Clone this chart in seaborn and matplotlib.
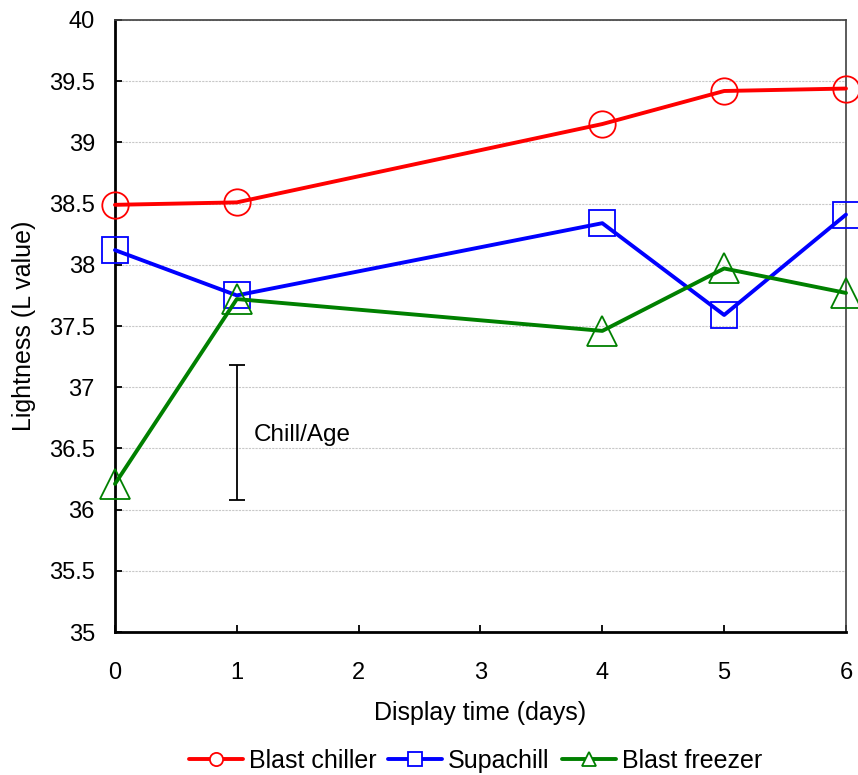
import matplotlib
matplotlib.use("Agg")
import matplotlib.pyplot as plt
from matplotlib.lines import Line2D
import seaborn as sns
import pandas as pd

days = [0, 1, 4, 5, 6]
blast_chiller = [38.49, 38.51, 39.15, 39.42, 39.44]
supachill = [38.12, 37.75, 38.34, 37.59, 38.41]
blast_freezer = [36.21, 37.72, 37.46, 37.97, 37.77]
series_names = ["Blast chiller", "Supachill", "Blast freezer"]
colors = ["#ff0000", "#0000ff", "#008000"]
markers = ["o", "s", "^"]
x_ticks = [0, 1, 2, 3, 4, 5, 6]
y_ticks = [35, 35.5, 36, 36.5, 37, 37.5, 38, 38.5, 39, 39.5, 40]
err_x, err_y, err_half = 1, 36.63, 0.55

sns.set_theme(style="white")
plt.rcParams["font.family"] = ["Liberation Sans", "DejaVu Sans"]
plt.rcParams["text.color"] = "black"
plt.rcParams["axes.labelcolor"] = "black"

fig = plt.figure(figsize=(8.58, 7.75), dpi=100)
ax = fig.add_axes([0.134, 0.1845, 0.852, 0.7897])

df = pd.DataFrame({
    "day": days * 3,
    "value": blast_chiller + supachill + blast_freezer,
    "series": [s for s in series_names for _ in days],
})

ms = {"o": 19, "s": 18.5, "^": 21}
for name, c, m in zip(series_names, colors, markers):
    sub = df[df["series"] == name]
    sns.lineplot(data=sub, x="day", y="value", ax=ax, color=c, lw=2.8,
                 marker=m, markersize=ms[m], markerfacecolor="none",
                 markeredgecolor=c, markeredgewidth=1.3, legend=False,
                 clip_on=False, zorder=3)

ax.errorbar([err_x], [err_y], yerr=[err_half], color="black", lw=1.3,
            capsize=6, capthick=1.3, fmt="none", zorder=2)
ax.text(err_x + 0.14, err_y - 0.02, "Chill/Age", fontsize=17.5, va="center",
        ha="left", color="black")

ax.set_xlim(0, 6)
ax.set_ylim(35, 40)
ax.set_xticks(x_ticks)
ax.set_yticks(y_ticks)
ax.set_yticklabels([f"{v:g}" for v in y_ticks])
ax.tick_params(axis="both", direction="in", length=5, width=1.3, labelsize=17,
               colors="black", left=True, bottom=True)
ax.tick_params(axis="x", pad=21.5)
ax.tick_params(axis="y", pad=14.5)
ax.yaxis.grid(True, color="#c8c8c8", lw=0.8, ls=(0, (2, 1)))
ax.xaxis.grid(False)
ax.set_axisbelow(True)

for s in ["left", "bottom"]:
    ax.spines[s].set_color("black")
    ax.spines[s].set_linewidth(2)
for s in ["top", "right"]:
    ax.spines[s].set_color("#404040")
    ax.spines[s].set_linewidth(1.2)
    ax.spines[s].set_visible(True)

ax.set_xlabel("Display time (days)", fontsize=18, labelpad=12.5, color="black")
ax.set_ylabel("Lightness (L value)", fontsize=18, labelpad=9, color="black")

handles = [Line2D([0], [0], color=c, lw=2.8, marker=m, markersize=9.5,
                  markerfacecolor="white", markeredgecolor=c, markeredgewidth=1.3)
           for c, m in zip(colors, markers)]
fig.legend(handles, series_names, loc="center", bbox_to_anchor=(0.554, 0.018),
           ncol=3, frameon=False, fontsize=18, handlelength=2.16,
           handletextpad=0.24, columnspacing=0.48)

fig.savefig("out.png", dpi=100)
